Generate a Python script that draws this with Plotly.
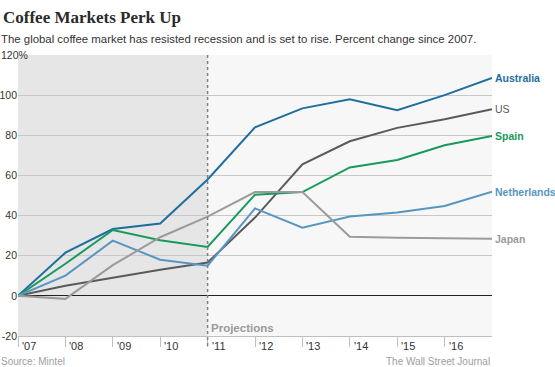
import plotly.graph_objects as go

years = [2007, 2008, 2009, 2010, 2011, 2012, 2013, 2014, 2015, 2016, 2017]
tick_years = [2007, 2008, 2009, 2010, 2011, 2012, 2013, 2014, 2015, 2016]
tick_labels = ["'07", "'08", "'09", "'10", "'11", "'12", "'13", "'14", "'15", "'16"]

australia = [0, 21.5, 33.3, 36, 58, 84, 93.4, 98, 92.5, 100, 108.6]
us = [0, 5, 9, 13, 16.6, 39, 65.5, 77, 83.7, 88, 93]
spain = [0, 16, 32.8, 27.7, 24.4, 50.4, 51.7, 64, 67.7, 75, 79.6]
netherlands = [0, 10.1, 27.5, 18, 15, 43.6, 34, 39.5, 41.5, 44.8, 51.9]
japan = [0, -1.5, 15.3, 29.2, 39.5, 51.7, 51.7, 29.5, 28.9, 28.6, 28.5]

y_ticks = [-20, 0, 20, 40, 60, 80, 100]
y_labels = ["-20", "0", "20", "40", "60", "80", "100"]

series = [
    ("Australia", australia, "#1f6e9e", True),
    ("US", us, "#5a5a5a", False),
    ("Spain", spain, "#179a5e", True),
    ("Netherlands", netherlands, "#5896c2", True),
    ("Japan", japan, "#9b9b9b", True),
]

fig = go.Figure()
for name, vals, color, bold in series:
    fig.add_trace(go.Scatter(x=years, y=vals, mode="lines", name=name,
                             line=dict(color=color, width=2), showlegend=False,
                             hoverinfo="skip"))

annotations = []
for name, vals, color, bold in series:
    annotations.append(dict(
        x=1, xref="paper", y=vals[-1], yref="y", xanchor="left", yanchor="middle",
        xshift=1, yshift=0, showarrow=False,
        text=f"<b>{name}</b>" if bold else name,
        font=dict(family="Liberation Sans, Arial", size=10.5, color=color)))

for yr, lab in zip(tick_years, tick_labels):
    annotations.append(dict(
        x=yr, xref="x", y=0, yref="paper", xanchor="left", yanchor="middle",
        xshift=2, yshift=-10, showarrow=False, text=lab,
        font=dict(family="Liberation Sans, Arial", size=11, color="#333")))

annotations += [
    dict(x=0, xref="paper", y=120, yref="y", xanchor="left", yanchor="middle",
         xshift=-19, showarrow=False, text="120%",
         font=dict(family="Liberation Sans, Arial", size=10.5, color="#333")),
    dict(x=2011, xref="x", y=0, yref="paper", xanchor="left", yanchor="middle",
         xshift=1, yshift=8, showarrow=False, text="<b>Projections</b>",
         font=dict(family="Liberation Sans, Arial", size=11.5, color="#9a9a9a")),
    dict(x=0, xref="paper", y=0, yref="paper", xanchor="left", yanchor="middle",
         xshift=-19, yshift=-25, showarrow=False, text="Source: Mintel",
         font=dict(family="Liberation Sans, Arial", size=10, color="#a0a0a0")),
    dict(x=1, xref="paper", y=0, yref="paper", xanchor="right", yanchor="middle",
         yshift=-25, showarrow=False, text="The Wall Street Journal",
         font=dict(family="Liberation Sans, Arial", size=10, color="#a0a0a0")),
    dict(x=0, xref="paper", y=1, yref="paper", xanchor="left", yanchor="bottom",
         xshift=-17, yshift=26, showarrow=False, text="<b>Coffee Markets Perk Up</b>",
         font=dict(family="Liberation Serif, DejaVu Serif", size=17, color="#2a2a2a")),
    dict(x=0, xref="paper", y=1, yref="paper", xanchor="left", yanchor="bottom",
         xshift=-19, yshift=8, showarrow=False,
         text="The global coffee market has resisted recession and is set to rise. Percent change since 2007.",
         font=dict(family="Liberation Sans, Arial", size=11.4, color="#333")),
]

shapes = [
    dict(type="rect", xref="x", yref="paper", x0=2007, x1=2011, y0=0, y1=1,
         fillcolor="#e6e6e6", line=dict(width=0), layer="below"),
    dict(type="line", xref="x", yref="paper", x0=2011, x1=2011, y0=-0.036, y1=1,
         line=dict(color="#808080", width=1.5, dash="dot"), layer="above"),
]

fig.update_layout(
    width=555, height=367,
    margin=dict(l=18, r=63, t=55, b=31, autoexpand=False),
    paper_bgcolor="white", plot_bgcolor="#f7f7f7",
    annotations=annotations, shapes=shapes,
    xaxis=dict(range=[2007, 2017], tickvals=tick_years, showticklabels=False,
               ticks="outside", ticklen=10, tickcolor="#c0c0c0", tickwidth=1,
               showgrid=False, zeroline=False, showline=True, linecolor="#c0c0c0",
               fixedrange=True, automargin=False),
    yaxis=dict(range=[-20, 120], tickvals=y_ticks + [120], ticktext=y_labels + [""],
               showgrid=True, gridcolor="#c8c8c8", gridwidth=1,
               zeroline=True, zerolinecolor="#222", zerolinewidth=1,
               tickfont=dict(family="Liberation Sans, Arial", size=10.5, color="#333"),
               ticks="", ticklabelstandoff=0, fixedrange=True, automargin=False),
    font=dict(family="Liberation Sans, Arial"),
)

fig.write_html("out.html", config={"displayModeBar": False},
               post_script="document.body.style.margin='0';document.body.style.overflow='hidden';")
